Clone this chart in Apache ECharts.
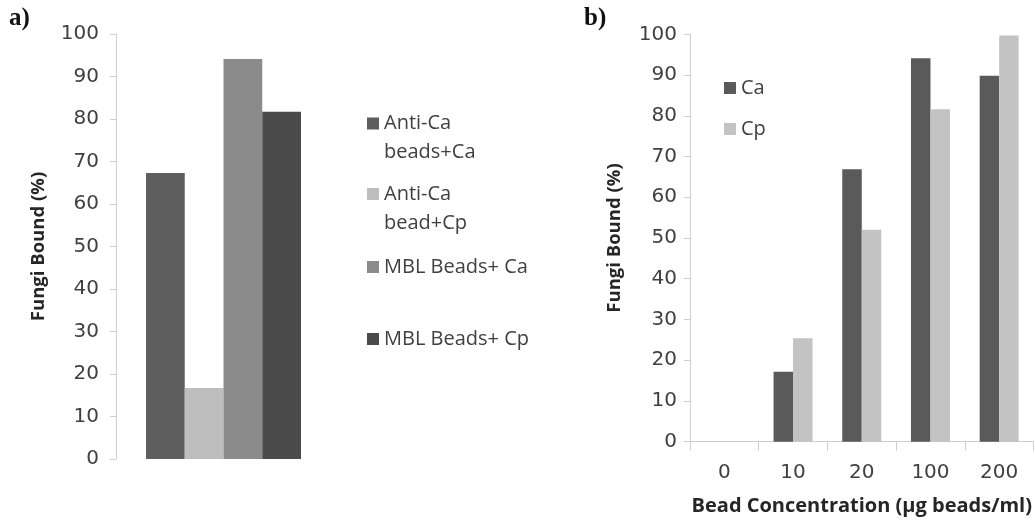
<!DOCTYPE html>
<html>
<head>
<meta charset="utf-8">
<script src="https://cdn.jsdelivr.net/npm/echarts@6/dist/echarts.min.js"></script>
<style>
  html, body { margin: 0; padding: 0; background: #fff; }
  #chart { width: 1035px; height: 522px; }
</style>
</head>
<body>
<div id="chart"></div>
<script>
// Panel a: binding by bead type (single group of four bars)
const panelASeries = ['Anti-Ca\nbeads+Ca', 'Anti-Ca\nbead+Cp', 'MBL Beads+ Ca', 'MBL Beads+ Cp'];
const panelAValues = [67.3, 16.7, 94.1, 81.7];

// Panel b: binding vs bead concentration
const concentrations = ['0', '10', '20', '100', '200'];
const caValues = [0, 17.2, 66.9, 94.1, 89.8];
const cpValues = [0, 25.4, 52.0, 81.6, 99.7];

const yTicks = { min: 0, max: 100, interval: 10 };

const FONT = 'Open Sans';
const NUM_FONT = 'DejaVu Sans';
const TXT = '#404040';
const AXIS = '#cfcfcf';
const colorsA = ['#5e5e5e', '#bebebe', '#8b8b8b', '#4b4b4b'];
const colorCa = '#5a5a5a';
const colorCp = '#c3c3c3';

const chart = echarts.init(document.getElementById('chart'), null, { renderer: 'canvas' });

function yAxisCfg(gridIndex, gap) {
  return {
    type: 'value', gridIndex: gridIndex,
    min: yTicks.min, max: yTicks.max, interval: yTicks.interval,
    name: 'Fungi Bound (%)', nameLocation: 'middle', nameGap: gap,
    nameTextStyle: { fontFamily: FONT, fontSize: 18.5, fontWeight: 'bold', color: '#262626' },
    axisLine: { show: true, lineStyle: { color: AXIS, width: 1 } },
    axisTick: { show: true, length: 6, lineStyle: { color: AXIS } },
    axisLabel: { fontFamily: NUM_FONT, fontSize: 20, color: TXT, margin: gridIndex === 0 ? 17 : 13 },
    splitLine: { show: false }
  };
}

// One legend per entry; two-line entries get an empty leading line so the
// swatch lines up with the first line of text.
function legendItem(name, left, centerY, twoLine) {
  const lh = 29;
  return {
    show: true, orient: 'vertical', left: left,
    top: twoLine ? centerY - lh * 1.5 : centerY - lh / 2,
    padding: 0, itemWidth: 12, itemHeight: 12, itemGap: 0,
    icon: 'rect',
    data: [name],
    formatter: twoLine ? (n => '\n' + n) : (n => n),
    textStyle: { fontFamily: FONT, fontSize: 20, color: TXT, lineHeight: lh }
  };
}

const seriesA = panelASeries.map((name, i) => ({
  name: name, type: 'bar', xAxisIndex: 0, yAxisIndex: 0,
  data: [panelAValues[i]], barWidth: 38.75, barGap: '0%',
  itemStyle: { color: colorsA[i] }
}));

chart.setOption({
  animation: false,
  backgroundColor: '#ffffff',
  title: [
    { text: 'a)', left: 9, top: 6, padding: 0,
      textStyle: { fontFamily: 'Liberation Serif', fontWeight: 'bold', fontSize: 25, color: '#111' } },
    { text: 'b)', left: 584, top: 6, padding: 0,
      textStyle: { fontFamily: 'Liberation Serif', fontWeight: 'bold', fontSize: 25, color: '#111' } }
  ],
  grid: [
    { left: 116, top: 34, width: 215, height: 425 },
    { left: 690, top: 34.3, width: 351.5, height: 407.4 }
  ],
  xAxis: [
    { type: 'category', gridIndex: 0, data: [''],
      axisLine: { show: false }, axisTick: { show: false }, axisLabel: { show: false } },
    { type: 'category', gridIndex: 1, data: concentrations,
      name: 'Bead Concentration (μg beads/ml)', nameLocation: 'middle', nameGap: 55,
      nameTextStyle: { fontFamily: FONT, fontSize: 20, fontWeight: 'bold', color: '#262626' },
      axisLine: { show: true, lineStyle: { color: AXIS } },
      axisTick: { show: true, length: 9, lineStyle: { color: AXIS } },
      axisLabel: { fontFamily: NUM_FONT, fontSize: 20, color: TXT, margin: 21 } }
  ],
  yAxis: [yAxisCfg(0, 68), yAxisCfg(1, 66)],
  legend: [
    legendItem(panelASeries[0], 367, 123.5, true),
    legendItem(panelASeries[1], 367, 194, true),
    legendItem(panelASeries[2], 367, 267, false),
    legendItem(panelASeries[3], 367, 339, false),
    legendItem('Ca', 724, 88, false),
    legendItem('Cp', 724, 129, false)
  ],
  series: seriesA.concat([
    { name: 'Ca', type: 'bar', xAxisIndex: 1, yAxisIndex: 1, data: caValues,
      barWidth: 19.5, barGap: '0%', itemStyle: { color: colorCa } },
    { name: 'Cp', type: 'bar', xAxisIndex: 1, yAxisIndex: 1, data: cpValues,
      barWidth: 19.5, barGap: '0%', itemStyle: { color: colorCp } }
  ])
});
</script>
</body>
</html>
